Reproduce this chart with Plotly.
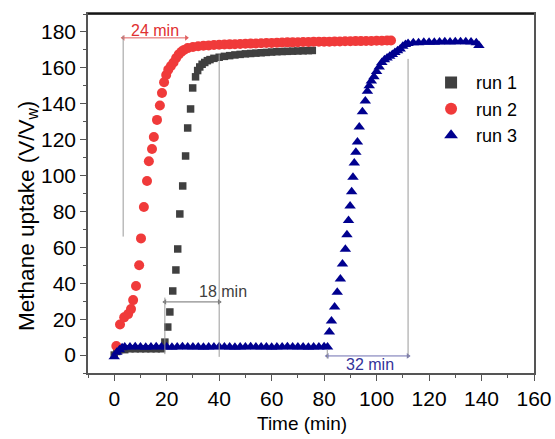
import plotly.graph_objects as go

# ---- data ----
run1_x = [0, 1, 2, 4, 6, 8, 10, 12, 14, 16, 18, 19.3, 20.4, 21.2, 22.3, 23.5, 24.2, 25.0, 26.1, 27.2,
          28.0, 29.1, 29.9, 31.0, 31.8, 32.6, 33.5, 34.5, 35.5, 36.5, 38, 40, 42, 44, 46, 48, 50, 52,
          54, 56, 58, 60, 62, 64, 66, 68, 70, 72, 74, 75.5]
run1_y = [0, 2, 3, 3, 3.5, 3.5, 3.5, 3.5, 3.5, 3.5, 3.5, 7.2, 15.6, 24.0, 35.7, 47.4, 59.1, 78.6, 94.2, 110.9,
          126.5, 137.1, 148.8, 155, 158.5, 160.5, 162, 163, 164, 164.6, 165.3, 165.9, 166.4, 166.8, 167.2,
          167.5, 167.8, 168, 168.2, 168.4, 168.6, 168.8, 169, 169.1, 169.2, 169.3, 169.4, 169.5, 169.6, 169.7]

run2_x = [0.8, 2.2, 3.8, 5.3, 6.4, 7.2, 8.3, 9.5, 10.2, 11.3, 12.5, 13.2, 14.4, 15.1, 16.3, 17.4, 18.2,
          19.0, 19.8, 20.6, 21.6, 22.6, 23.6, 24.6, 25.6, 26.6, 28, 30, 32, 34, 36, 38, 40, 42, 44, 46,
          48, 50, 52, 54, 56, 58, 60, 62, 64, 66, 68, 70, 72, 74, 76, 78, 80, 82, 84, 86, 88, 90, 92,
          94, 96, 98, 100, 102, 104, 105.5]
run2_y = [5, 17, 21, 22.8, 25.6, 30.6, 38.5, 50, 65, 82.5, 97, 108, 114.8, 121.5, 131, 139, 146,
          152, 156, 159, 161, 163, 165.5, 167.5, 169, 170, 171, 171.6, 172, 172.3, 172.5, 172.7, 172.9,
          173, 173.1, 173.2, 173.3, 173.4, 173.5, 173.6, 173.7, 173.8, 173.9, 174, 174.1, 174.2, 174.2,
          174.3, 174.4, 174.4, 174.5, 174.5, 174.6, 174.6, 174.7, 174.7, 174.8, 174.8, 174.9, 174.9,
          175, 175, 175.1, 175.1, 175.2, 175.2]

run3_x = [0, 1, 2, 3, 4, 6, 8, 10, 12, 14, 16, 18, 20, 22, 24, 26, 28, 30, 32, 34, 36, 38, 40, 42, 44,
          46, 48, 50, 52, 54, 56, 58, 60, 62, 64, 66, 68, 70, 72, 74, 76, 78, 80, 81.3, 82.0, 82.8,
          84.0, 85.0, 86.2, 87.0, 88.1, 88.7, 89.3, 89.9, 90.5, 91.0, 91.5, 92.1, 92.7, 93.4, 94.6,
          95.7, 96.5, 97.2, 98, 99, 100, 101, 102, 103, 104, 105, 106, 107, 108, 109, 110, 111,
          112, 114, 116, 118, 120, 122, 124, 126, 128, 130, 132, 134, 136, 138, 139]
run3_y = [-1, 1.5, 3, 4, 4.5, 4.5, 4.6, 4.5, 4.4, 4.5, 4.6, 4.5, 4.5, 4.4, 4.5, 4.6, 4.5, 4.5, 4.5,
          4.4, 4.5, 4.5, 4.6, 4.5, 4.5, 4.4, 4.5, 4.5, 4.6, 4.5, 4.5, 4.5, 4.4, 4.5, 4.5, 4.6, 4.5,
          4.5, 4.5, 4.4, 4.5, 4.5, 4.6, 4.5, 12.8, 19, 26.8, 35, 42.4, 50.7, 59, 67, 75, 83, 91, 99,
          107, 113, 118.7, 127, 135.5, 141.6, 147, 150, 152.7, 155, 158, 160.5, 163, 164.5, 165.5,
          166.5, 167.5, 168.5, 169.5, 170.5, 172, 173, 173.5, 174, 174, 174.2, 174.3, 174.2, 174.4,
          174.5, 174.4, 174.5, 174.6, 174.5, 174.4, 174, 172.5]

x_ticks = [0, 20, 40, 60, 80, 100, 120, 140, 160]
y_ticks = [0, 20, 40, 60, 80, 100, 120, 140, 160, 180]

# interval markers: (start, end, level) for each labelled interval
span_24 = [3.4, 27.5, 176.7]
span_18 = [19.3, 40.0, 29.6]
span_32 = [81.2, 112.0, -0.5]

FONT = "Liberation Sans, Arial, sans-serif"
GREY = "#404040"
RED = "#f03a3a"
BLUE = "#00008f"

fig = go.Figure()
fig.add_trace(go.Scatter(x=run1_x, y=run1_y, mode="markers", name="run 1",
                         marker=dict(symbol="square", size=7.5, color=GREY)))
fig.add_trace(go.Scatter(x=run2_x, y=run2_y, mode="markers", name="run 2",
                         marker=dict(symbol="circle", size=10, color=RED)))
fig.add_trace(go.Scatter(x=run3_x, y=run3_y, mode="markers", name="run 3",
                         marker=dict(symbol="triangle-up", size=10, color=BLUE)))

# double-headed interval arrows
for span, col in [(span_24, "#e06060"), (span_18, "#707070"), (span_32, "#6f6fb0")]:
    fig.add_trace(go.Scatter(x=[span[0], span[1]], y=[span[2], span[2]], mode="lines+markers",
                             showlegend=False, hoverinfo="skip",
                             line=dict(color=col, width=1),
                             marker=dict(symbol=["triangle-left", "triangle-right"], size=5, color=col)))

LC = "#9a9a9a"
shapes = [
    dict(type="line", x0=3.4, x1=3.4, y0=66, y1=178, line=dict(color=LC, width=1)),
    dict(type="line", x0=19.3, x1=19.3, y0=0.5, y1=32, line=dict(color=LC, width=1)),
    dict(type="line", x0=40, x1=40, y0=-1, y1=167.5, line=dict(color=LC, width=1)),
    dict(type="line", x0=81.2, x1=81.2, y0=-2, y1=3, line=dict(color=LC, width=1)),
    dict(type="line", x0=112, x1=112, y0=-1.5, y1=165, line=dict(color=LC, width=1)),
    dict(type="line", xref="paper", yref="paper", x0=0, x1=1, y0=1, y1=1,
         line=dict(color="black", width=1.5)),
]

annotations = [
    dict(x=15.5, y=181, text="24 min", showarrow=False, font=dict(family=FONT, size=16, color="#e03030")),
    dict(x=41.5, y=35.5, text="18 min", showarrow=False, font=dict(family=FONT, size=16, color="#404040")),
    dict(x=97.5, y=-5.5, text="32 min", showarrow=False, font=dict(family=FONT, size=16, color="#33339a")),
    # axis titles
    dict(xref="paper", yref="paper", x=0.48, y=-0.14, xanchor="center", yanchor="middle",
         text="Time (min)", showarrow=False, font=dict(family=FONT, size=19, color="black")),
    dict(xref="paper", yref="paper", x=-0.135, y=0.437, xanchor="center", yanchor="middle",
         textangle=-90, text="Methane uptake (V/V<sub>w</sub>)", showarrow=False,
         font=dict(family=FONT, size=22.5, color="black")),
]

fig.update_layout(
    width=555, height=439,
    margin=dict(l=88, r=21, t=14, b=66, autoexpand=False),
    paper_bgcolor="white", plot_bgcolor="white",
    font=dict(family=FONT, size=19, color="black"),
    showlegend=True,
    legend=dict(x=0.758, y=0.86, xanchor="left", yanchor="top", bgcolor="rgba(0,0,0,0)",
                font=dict(family=FONT, size=18), itemsizing="constant", itemwidth=40),
    shapes=shapes, annotations=annotations,
    xaxis=dict(range=[-10, 160], tickvals=x_ticks, showgrid=False, zeroline=False, automargin=False,
               showline=True, linecolor="#555", linewidth=1.5, mirror=True,
               ticks="outside", ticklen=6, tickcolor="#555", tickfont=dict(size=21),
               minor=dict(dtick=10, ticks="outside", ticklen=3, tickcolor="#555")),
    yaxis=dict(range=[-10, 190], tickvals=y_ticks, showgrid=False, zeroline=False, automargin=False,
               showline=True, linecolor="#555", linewidth=1.5, mirror=True,
               ticks="outside", ticklen=6, tickcolor="#555", tickfont=dict(size=21),
               minor=dict(dtick=10, ticks="outside", ticklen=3, tickcolor="#555")),
)

fig.write_html("out.html")
